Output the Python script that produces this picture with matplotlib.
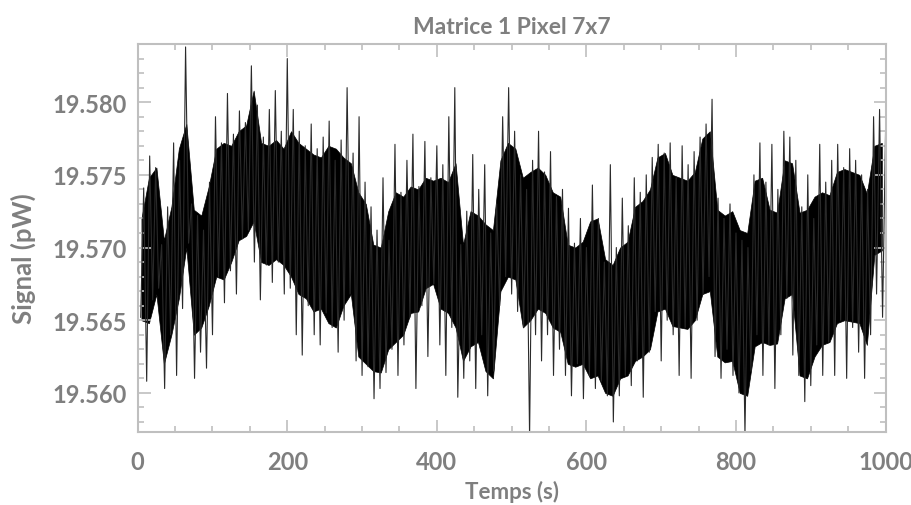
import numpy as np
import matplotlib
matplotlib.use("Agg")
from matplotlib import pyplot as plt
from matplotlib.ticker import MultipleLocator, FormatStrFormatter

# sampling period of the read-off spike series (s)
sample_period = 4.0

# spikes, one value every 4 s (t = 4 .. 1000)
signal_pw = [
    19.5652, 19.5741, 19.5608, 19.5763, 19.5664, 19.5755, 19.5672, 19.5702, 19.5603, 19.5728,
    19.5640, 19.5772, 19.5612, 19.5760, 19.5658, 19.5838, 19.5703, 19.5730, 19.5610, 19.5722,
    19.5628, 19.5712, 19.5617, 19.5745, 19.5640, 19.5790, 19.5680, 19.5772, 19.5662, 19.5806,
    19.5684, 19.5778, 19.5668, 19.5794, 19.5706, 19.5786, 19.5712, 19.5825, 19.5690, 19.5798,
    19.5664, 19.5776, 19.5688, 19.5795, 19.5676, 19.5808, 19.5690, 19.5780, 19.5668, 19.5830,
    19.5672, 19.5795, 19.5640, 19.5780, 19.5626, 19.5770, 19.5660, 19.5785, 19.5640, 19.5768,
    19.5633, 19.5776, 19.5655, 19.5787, 19.5645, 19.5760, 19.5628, 19.5774, 19.5650, 19.5810,
    19.5668, 19.5765, 19.5622, 19.5790, 19.5612, 19.5745, 19.5618, 19.5728, 19.5596, 19.5712,
    19.5603, 19.5748, 19.5614, 19.5705, 19.5630, 19.5771, 19.5612, 19.5738, 19.5633, 19.5760,
    19.5652, 19.5778, 19.5603, 19.5742, 19.5660, 19.5773, 19.5625, 19.5748, 19.5675, 19.5770,
    19.5633, 19.5757, 19.5612, 19.5790, 19.5645, 19.5810, 19.5597, 19.5702, 19.5610, 19.5725,
    19.5622, 19.5764, 19.5603, 19.5740, 19.5640, 19.5757, 19.5598, 19.5710, 19.5615, 19.5730,
    19.5660, 19.5790, 19.5680, 19.5810, 19.5668, 19.5780, 19.5656, 19.5750, 19.5645, 19.5740,
    19.5570, 19.5760, 19.5640, 19.5780, 19.5622, 19.5752, 19.5640, 19.5766, 19.5612, 19.5735,
    19.5630, 19.5740, 19.5612, 19.5727, 19.5598, 19.5703, 19.5620, 19.5720, 19.5596, 19.5700,
    19.5612, 19.5743, 19.5603, 19.5720, 19.5608, 19.5690, 19.5598, 19.5757, 19.5580, 19.5700,
    19.5598, 19.5734, 19.5612, 19.5715, 19.5605, 19.5748, 19.5622, 19.5738, 19.5597, 19.5750,
    19.5628, 19.5762, 19.5656, 19.5771, 19.5622, 19.5765, 19.5650, 19.5772, 19.5640, 19.5748,
    19.5612, 19.5770, 19.5645, 19.5757, 19.5610, 19.5766, 19.5650, 19.5776, 19.5668, 19.5785,
    19.5680, 19.5802, 19.5625, 19.5734, 19.5610, 19.5720, 19.5630, 19.5730, 19.5612, 19.5710,
    19.5600, 19.5705, 19.5572, 19.5700, 19.5615, 19.5750, 19.5640, 19.5772, 19.5612, 19.5745,
    19.5633, 19.5771, 19.5603, 19.5740, 19.5640, 19.5780, 19.5665, 19.5776, 19.5626, 19.5760,
    19.5612, 19.5728, 19.5594, 19.5750, 19.5605, 19.5720, 19.5633, 19.5771, 19.5612, 19.5745,
    19.5635, 19.5760, 19.5612, 19.5771, 19.5650, 19.5755, 19.5610, 19.5768, 19.5645, 19.5760,
    19.5628, 19.5750, 19.5610, 19.5740, 19.5640, 19.5790, 19.5668, 19.5795, 19.5652, 19.5780,
]

# dense black core of the trace, read every 10 s (t = 5 .. 995)
core_time = [
    5, 15, 25, 35, 45, 55, 65, 75, 85, 95,
    105, 115, 125, 135, 145, 155, 165, 175, 185, 195,
    205, 215, 225, 235, 245, 255, 265, 275, 285, 295,
    305, 315, 325, 335, 345, 355, 365, 375, 385, 395,
    405, 415, 425, 435, 445, 455, 465, 475, 485, 495,
    505, 515, 525, 535, 545, 555, 565, 575, 585, 595,
    605, 615, 625, 635, 645, 655, 665, 675, 685, 695,
    705, 715, 725, 735, 745, 755, 765, 775, 785, 795,
    805, 815, 825, 835, 845, 855, 865, 875, 885, 895,
    905, 915, 925, 935, 945, 955, 965, 975, 985, 995,
]
core_low = [
    19.5650, 19.5648, 19.5668, 19.5620, 19.5640, 19.5665, 19.5700, 19.5640, 19.5645, 19.5660,
    19.5680, 19.5678, 19.5690, 19.5705, 19.5708, 19.5718, 19.5690, 19.5688, 19.5692, 19.5688,
    19.5680, 19.5668, 19.5665, 19.5656, 19.5658, 19.5648, 19.5645, 19.5660, 19.5668, 19.5625,
    19.5620, 19.5615, 19.5614, 19.5630, 19.5635, 19.5640, 19.5655, 19.5656, 19.5672, 19.5675,
    19.5658, 19.5655, 19.5645, 19.5622, 19.5632, 19.5635, 19.5615, 19.5610, 19.5670, 19.5680,
    19.5678, 19.5645, 19.5650, 19.5658, 19.5655, 19.5645, 19.5642, 19.5620, 19.5618, 19.5620,
    19.5610, 19.5612, 19.5600, 19.5598, 19.5610, 19.5612, 19.5622, 19.5625, 19.5630, 19.5656,
    19.5658, 19.5646, 19.5645, 19.5644, 19.5650, 19.5668, 19.5670, 19.5625, 19.5621, 19.5622,
    19.5600, 19.5598, 19.5632, 19.5635, 19.5633, 19.5634, 19.5665, 19.5668, 19.5612, 19.5610,
    19.5625, 19.5633, 19.5635, 19.5648, 19.5650, 19.5649, 19.5648, 19.5633, 19.5695, 19.5698,
]
core_high = [
    19.5720, 19.5748, 19.5755, 19.5705, 19.5728, 19.5768, 19.5785, 19.5726, 19.5722, 19.5742,
    19.5768, 19.5772, 19.5770, 19.5780, 19.5784, 19.5808, 19.5772, 19.5770, 19.5774, 19.5768,
    19.5780, 19.5772, 19.5768, 19.5764, 19.5762, 19.5770, 19.5768, 19.5762, 19.5758, 19.5738,
    19.5730, 19.5702, 19.5700, 19.5725, 19.5738, 19.5735, 19.5742, 19.5740, 19.5748, 19.5746,
    19.5748, 19.5745, 19.5758, 19.5702, 19.5725, 19.5722, 19.5716, 19.5712, 19.5760, 19.5772,
    19.5768, 19.5748, 19.5752, 19.5755, 19.5750, 19.5738, 19.5735, 19.5702, 19.5700, 19.5704,
    19.5718, 19.5720, 19.5692, 19.5688, 19.5700, 19.5704, 19.5728, 19.5732, 19.5740, 19.5762,
    19.5765, 19.5750, 19.5748, 19.5746, 19.5752, 19.5775, 19.5780, 19.5726, 19.5722, 19.5725,
    19.5712, 19.5710, 19.5746, 19.5748, 19.5726, 19.5724, 19.5760, 19.5758, 19.5724, 19.5726,
    19.5735, 19.5738, 19.5736, 19.5752, 19.5754, 19.5752, 19.5750, 19.5737, 19.5770, 19.5772,
]

title = "Matrice 1 Pixel 7x7"
x_label = "Temps (s)"
y_label = "Signal (pW)"

TEXT = "#7f7f7f"
FRAME = "#bfbfbf"

plt.rcParams["font.family"] = ["Lato", "DejaVu Sans"]

time_s = sample_period * np.arange(1, len(signal_pw) + 1)

fig = plt.figure(figsize=(9.12, 5.06), dpi=100)
ax = fig.add_axes([0.151, 0.144, 0.820, 0.767])

ax.fill_between(core_time, core_low, core_high, color="black", lw=0.5)
ax.plot(time_s, signal_pw, color="#2a2a2a", lw=0.8)

ax.set_xlim(0, 1000)
ax.set_ylim(19.5573, 19.5840)
ax.xaxis.set_major_locator(MultipleLocator(200))
ax.xaxis.set_minor_locator(MultipleLocator(50))
ax.yaxis.set_major_locator(MultipleLocator(0.005))
ax.yaxis.set_minor_locator(MultipleLocator(0.001))
ax.yaxis.set_major_formatter(FormatStrFormatter("%.3f"))

ax.tick_params(which="both", direction="in", top=True, right=True, color=FRAME,
               width=1.2, labelcolor=TEXT, labelsize=17)
ax.tick_params(which="major", length=9)
ax.tick_params(which="minor", length=4.5)
ax.tick_params(axis="x", which="major", pad=13)
ax.tick_params(axis="y", which="major", pad=8)
for lbl in ax.get_xticklabels() + ax.get_yticklabels():
    lbl.set_fontweight("bold")
for s in ax.spines.values():
    s.set_color(FRAME)
    s.set_linewidth(1.5)

ax.set_title(title, color=TEXT, fontsize=16.5, fontweight="bold", pad=8)
ax.set_xlabel(x_label, color=TEXT, fontsize=16, fontweight="bold", labelpad=5)
ax.set_ylabel(y_label, color=TEXT, fontsize=18.5, fontweight="bold")
ax.yaxis.set_label_coords(-0.136, 0.45)

plt.savefig("out.png")
plt.close()
